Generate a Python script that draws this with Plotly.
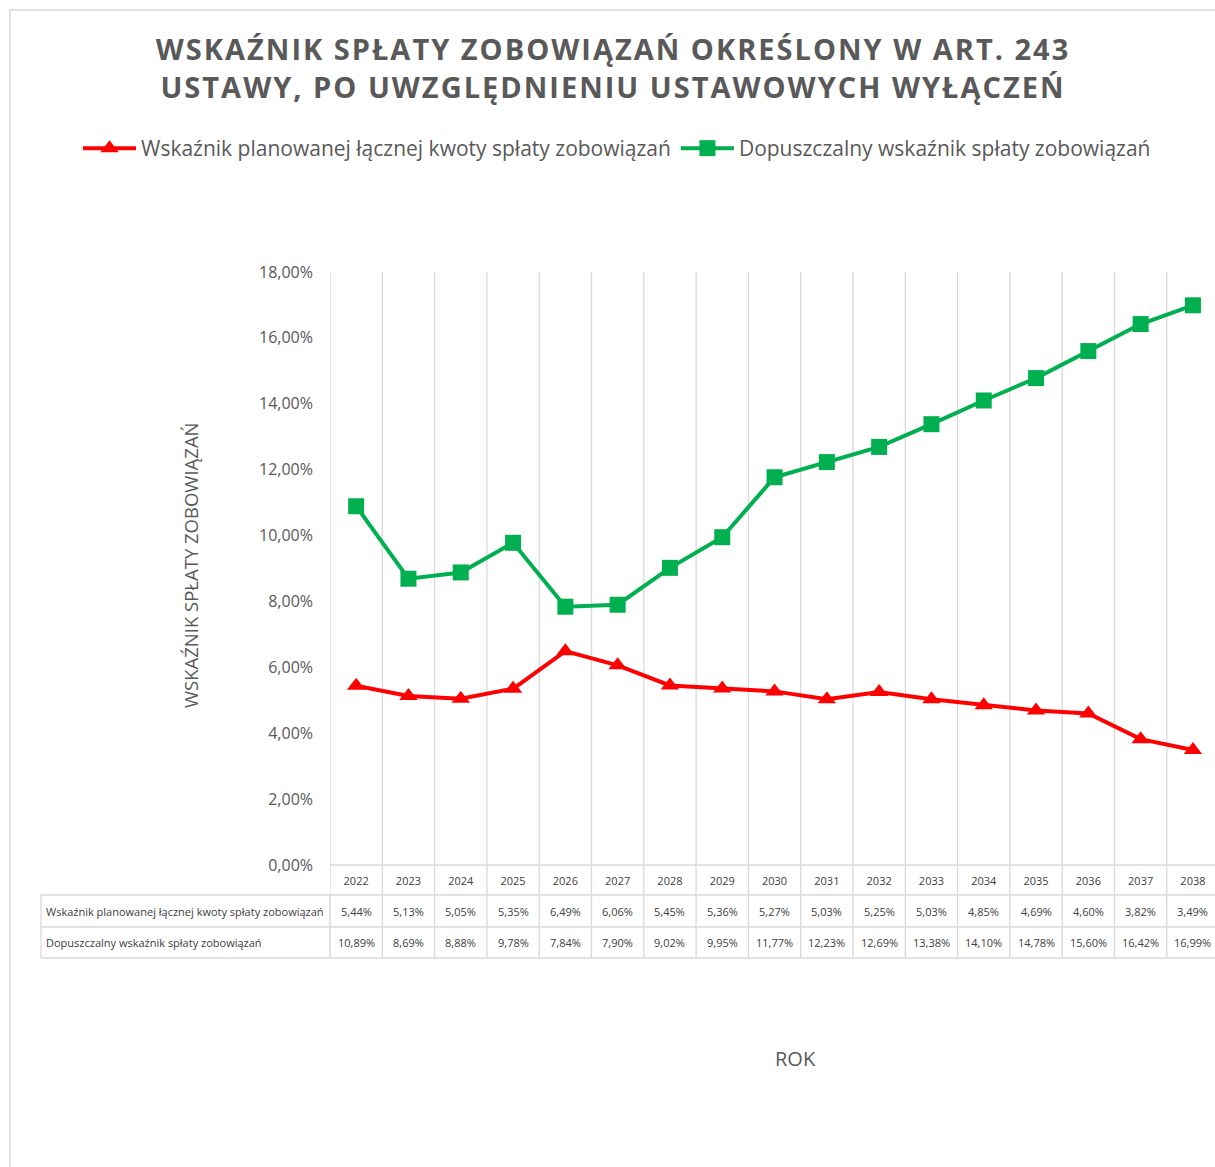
import plotly.graph_objects as go

years = [2022, 2023, 2024, 2025, 2026, 2027, 2028, 2029, 2030,
         2031, 2032, 2033, 2034, 2035, 2036, 2037, 2038]
planned = [5.44, 5.13, 5.05, 5.35, 6.49, 6.06, 5.45, 5.36, 5.27,
           5.03, 5.25, 5.03, 4.85, 4.69, 4.60, 3.82, 3.49]
allowed = [10.89, 8.69, 8.88, 9.78, 7.84, 7.90, 9.02, 9.95, 11.77,
           12.23, 12.69, 13.38, 14.10, 14.78, 15.60, 16.42, 16.99]
name_planned = "Wskaźnik planowanej łącznej kwoty spłaty zobowiązań"
name_allowed = "Dopuszczalny wskaźnik spłaty zobowiązań"
title_text = ("WSKAŹNIK SPŁATY ZOBOWIĄZAŃ OKREŚLONY W ART. 243<br>"
              "USTAWY, PO UWZGLĘDNIENIU USTAWOWYCH WYŁĄCZEŃ")
y_title = "WSKAŹNIK SPŁATY ZOBOWIĄZAŃ"
x_title = "ROK"

W, H = 1215, 1167
L, R, T, B = 330, 0, 272, 302
PW = W - L - R
PH = H - T - B
GRID = "#D9D9D9"
TXT = "#595959"
TBL = "#404040"
FONT = "Open Sans"


def py(pix):
    return (H - B - pix) / PH


def px(pix):
    return (pix - L) / PW


def fmt(v):
    return f"{v:.2f}".replace(".", ",") + "%"


fig = go.Figure()
fig.add_trace(go.Scatter(
    x=years, y=planned, name=name_planned, mode="lines+markers",
    line=dict(color="#FF0000", width=4),
    marker=dict(symbol="triangle-up", size=16, color="#FF0000"),
))
fig.add_trace(go.Scatter(
    x=years, y=allowed, name=name_allowed, mode="lines+markers",
    line=dict(color="#00B050", width=4),
    marker=dict(symbol="square", size=16, color="#00B050"),
))

shapes = []
bounds = [y - 0.5 for y in years] + [years[-1] + 0.5]
for b in bounds:
    shapes.append(dict(type="line", xref="x", yref="paper", x0=b, x1=b,
                       y0=py(958), y1=1, line=dict(color=GRID, width=1.3),
                       layer="below"))
shapes.append(dict(type="line", xref="paper", yref="paper", x0=0, x1=1,
                   y0=0, y1=0, line=dict(color=GRID, width=1.3)))
for yy in [895, 927, 958]:
    shapes.append(dict(type="line", xref="paper", yref="paper", x0=px(41),
                       x1=1, y0=py(yy), y1=py(yy),
                       line=dict(color=GRID, width=1.3)))
shapes.append(dict(type="line", xref="paper", yref="paper", x0=px(41),
                   x1=px(41), y0=py(895), y1=py(958),
                   line=dict(color=GRID, width=1.3)))
shapes.append(dict(type="line", xref="paper", yref="paper", x0=px(330),
                   x1=px(330), y0=py(895), y1=py(958),
                   line=dict(color=GRID, width=1.3)))
shapes.append(dict(type="rect", xref="paper", yref="paper", x0=px(10),
                   x1=px(1230), y0=py(1180), y1=py(10),
                   line=dict(color=GRID, width=1.5)))

annotations = []
for yr, a, b in zip(years, planned, allowed):
    annotations.append(dict(x=yr, xref="x", y=py(911), yref="paper",
                            xanchor="center", yanchor="middle",
                            text=fmt(a), showarrow=False,
                            font=dict(family=FONT, size=11, color=TBL)))
    annotations.append(dict(x=yr, xref="x", y=py(942), yref="paper",
                            xanchor="center", yanchor="middle",
                            text=fmt(b), showarrow=False,
                            font=dict(family=FONT, size=11, color=TBL)))
for name, yy in [(name_planned, 911), (name_allowed, 942)]:
    annotations.append(dict(x=px(44), xref="paper", xanchor="left",
                            y=py(yy), yref="paper", yanchor="middle",
                            text=name, showarrow=False,
                            font=dict(family=FONT, size=11, color=TBL)))
annotations.append(dict(x=px(190), xref="paper", y=py(565),
                        yref="paper", xanchor="center", yanchor="middle",
                        text=y_title, textangle=-90, showarrow=False,
                        font=dict(family=FONT, size=18.5, color=TXT)))
annotations.append(dict(x=px(795), xref="paper", y=py(1058),
                        yref="paper", xanchor="center", yanchor="middle",
                        text=x_title, showarrow=False,
                        font=dict(family=FONT, size=20, color=TXT)))

fig.update_layout(
    width=W, height=H,
    margin=dict(l=L, r=R, t=T, b=B),
    paper_bgcolor="white", plot_bgcolor="white",
    separators=", ",
    title=dict(text=title_text, xref="container", x=613 / W,
               xanchor="center", yref="container", y=1 - 60 / H,
               yanchor="top",
               font=dict(family=FONT, size=29, color=TXT, weight="bold")),
    legend=dict(orientation="h", xref="paper", yref="paper",
                x=px(78), xanchor="left", y=py(128), yanchor="top",
                font=dict(family=FONT, size=21, color=TXT),
                itemwidth=53, bgcolor="rgba(0,0,0,0)"),
    xaxis=dict(range=[years[0] - 0.5, years[0] - 0.5 + PW / 52.3],
               showgrid=False, zeroline=False, showline=False,
               tickmode="array", tickvals=years,
               ticktext=[str(y) for y in years], ticks="",
               tickfont=dict(family=FONT, size=11, color=TBL),
               ticklabelstandoff=8),
    yaxis=dict(range=[0, 18], dtick=2, tickformat=".2f", ticksuffix="%",
               showgrid=False, zeroline=False, showline=False, ticks="",
               tickfont=dict(family=FONT, size=16, color=TXT),
               ticklabelstandoff=16),
    shapes=shapes, annotations=annotations,
)

post = ("document.body.style.margin='0';"
        "document.body.style.overflow='hidden';"
        "document.querySelectorAll('.gtitle').forEach(function(t){"
        "t.style.letterSpacing='2px';});")
fig.write_html("out.html", post_script=post,
               config={"displayModeBar": False})
